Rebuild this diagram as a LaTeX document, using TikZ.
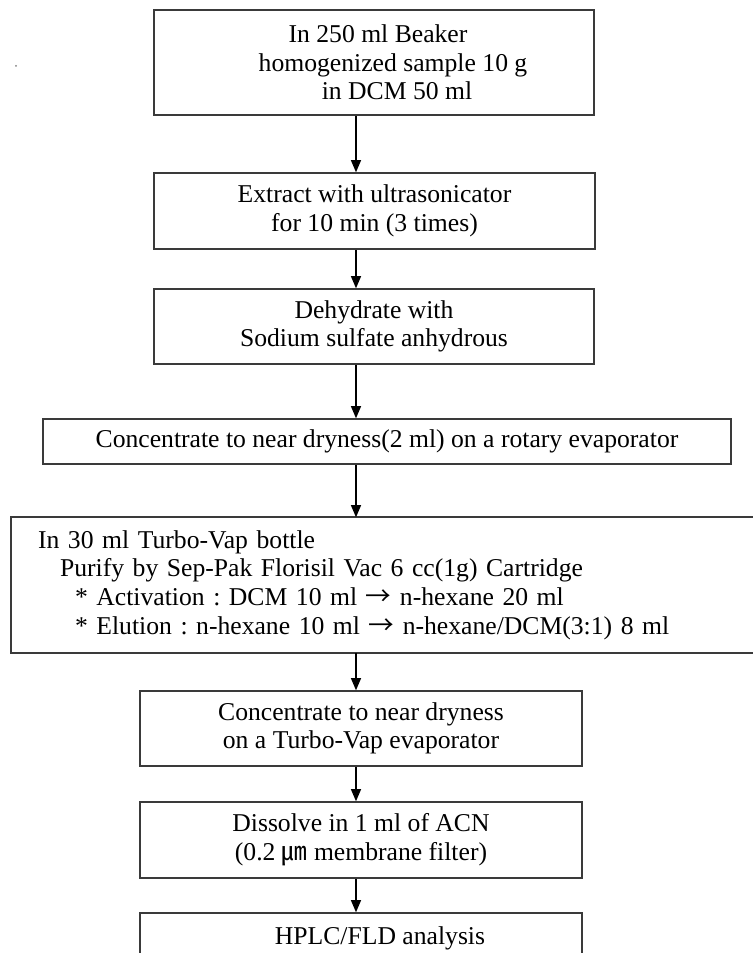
\documentclass[tikz,border=0pt]{standalone}
\usepackage{fontspec}
\setmainfont{Liberation Serif}
\newfontfamily\cjkfont{Noto Sans CJK KR}
\usepackage{tikz}
\usetikzlibrary{arrows.meta}
\definecolor{boxline}{HTML}{3A3A3A}
\newcommand\toarrow{{\cjkfont →}}
\tikzset{
  stepbox/.style={draw=boxline, line width=0.9pt, align=center, inner sep=0pt, font={\fontsize{14.6}{16.3}\selectfont}},
  openbox/.style={line width=0.9pt, draw=boxline},
  flow/.style={-{Triangle[length=0.24cm, width=0.2cm]}, line width=0.6pt}
}
\frenchspacing

\begin{document}
\begin{tikzpicture}[x=0.02cm, y=-0.02cm]
  \useasboundingbox (0,0) rectangle (753,953);
  \clip (0,0) rectangle (753,953);
  \coordinate (spine) at (356,0);
  \fill[gray] (16,66) circle (1);

  \node[stepbox, minimum width=8.8cm, minimum height=2.1cm] (beaker) at (374,62.5)
    {\hspace*{0.16cm}In 250 ml Beaker\\ \hspace*{0.76cm}homogenized sample 10 g\\ \hspace*{0.92cm}in DCM 50 ml};
  \node[stepbox, minimum width=8.82cm, minimum height=1.52cm] (extract) at (374.5,211)
    {Extract with ultrasonicator\\for 10 min (3 times)};
  \node[stepbox, minimum width=8.8cm, minimum height=1.5cm] (dehyd) at (374,326.5)
    {Dehydrate with\\Sodium sulfate anhydrous};
  \node[stepbox, minimum width=13.76cm, minimum height=0.9cm] (rotary) at (387,441.5)
    {Concentrate to near dryness(2 ml) on a rotary evaporator};
  \node[stepbox, draw=none, align=left, inner xsep=0.52cm, text width=14.96cm, minimum height=2.68cm] (purify) at (412,585)
    {In 30 ml Turbo-Vap bottle\\
     \hspace*{0.44cm}Purify by Sep-Pak Florisil Vac 6 cc(1g) Cartridge\\
     \hspace*{0.74cm}* Activation : DCM 10 ml \toarrow{} n-hexane 20 ml\\
     \hspace*{0.74cm}* Elution : n-hexane 10 ml \toarrow{} n-hexane/DCM(3:1) 8 ml};
  \draw[openbox] (purify.north east) -- (purify.north west) -- (purify.south west) -- (purify.south east);
  \node[stepbox, minimum width=8.84cm, minimum height=1.5cm] (turbo) at (361,728.5)
    {Concentrate to near dryness\\on a Turbo-Vap evaporator};
  \node[stepbox, minimum width=8.84cm, minimum height=1.52cm] (dissolve) at (361,840)
    {Dissolve in 1 ml of ACN\\(0.2 {\cjkfont ㎛} membrane filter)};
  \node[stepbox, minimum width=8.84cm, minimum height=1cm] (hplc) at (361,938)
    {\hspace*{0.76cm}HPLC/FLD analysis};

  \draw[flow] (beaker.south -| spine) -- (extract.north -| spine);
  \draw[flow] (extract.south -| spine) -- (dehyd.north -| spine);
  \draw[flow] (dehyd.south -| spine) -- (rotary.north -| spine);
  \draw[flow] (rotary.south -| spine) -- (purify.north -| spine);
  \draw[flow] (purify.south -| spine) -- (turbo.north -| spine);
  \draw[flow] (turbo.south -| spine) -- (dissolve.north -| spine);
  \draw[flow] (dissolve.south -| spine) -- (hplc.north -| spine);
\end{tikzpicture}
\end{document}
